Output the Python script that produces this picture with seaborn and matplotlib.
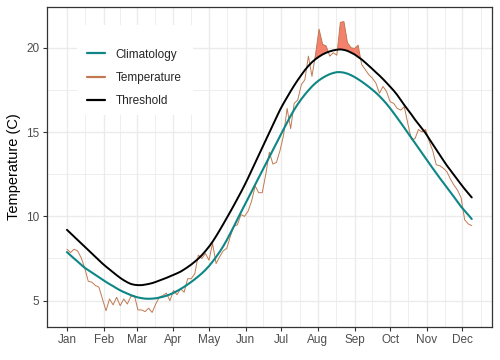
import numpy as np
import pandas as pd
import matplotlib
matplotlib.use("Agg")
import matplotlib.pyplot as plt
import matplotlib.dates as mdates
from matplotlib.lines import Line2D
from matplotlib.patches import Rectangle
import seaborn as sns

# ---------------- data (one value every 3 days) -------------
start_date = "2019-01-01"
step_days = 3

temperature = [
    8.05, 7.85, 8.05, 7.95, 7.55, 6.95, 6.15, 6.10, 5.90, 5.80,
    5.10, 4.40, 5.10, 4.75, 5.20, 4.70, 5.10, 4.80, 5.25, 5.30,
    4.45, 4.45, 4.35, 4.55, 4.30, 4.80, 5.20, 5.30, 5.45, 5.00,
    5.60, 5.35, 5.70, 5.50, 6.30, 6.30, 6.60, 7.70, 7.50, 7.80,
    7.40, 8.40, 7.20, 7.60, 7.95, 8.10, 8.80, 9.40, 9.50, 10.10,
    10.00, 10.30, 10.90, 11.80, 11.40, 11.40, 12.50, 13.80, 13.10, 13.20,
    13.90, 14.80, 16.40, 15.20, 16.70, 16.90, 17.80, 18.10, 19.50, 18.30,
    19.60, 21.10, 20.20, 20.10, 19.50, 19.70, 19.55, 21.50, 21.55, 20.30,
    20.00, 19.95, 20.15, 19.00, 18.70, 18.40, 18.20, 17.90, 17.30, 17.70,
    17.40, 16.80, 16.70, 16.40, 16.30, 16.50, 15.50, 14.55, 14.60, 15.15,
    15.00, 15.15, 14.45, 13.90, 13.05, 13.00, 12.85, 12.65, 12.20, 11.85,
    11.55, 11.10, 9.80, 9.55, 9.45,
]

climatology = [
    7.88, 7.69, 7.50, 7.32, 7.13, 6.95, 6.81, 6.67, 6.53, 6.39,
    6.25, 6.11, 5.98, 5.86, 5.73, 5.61, 5.51, 5.42, 5.33, 5.25,
    5.19, 5.15, 5.12, 5.11, 5.12, 5.14, 5.18, 5.23, 5.29, 5.37,
    5.46, 5.57, 5.69, 5.82, 5.96, 6.11, 6.27, 6.44, 6.62, 6.82,
    7.05, 7.31, 7.59, 7.89, 8.22, 8.59, 8.99, 9.40, 9.82, 10.24,
    10.65, 11.06, 11.47, 11.88, 12.29, 12.70, 13.11, 13.52, 13.93, 14.34,
    14.75, 15.16, 15.56, 15.96, 16.32, 16.65, 16.95, 17.22, 17.47, 17.70,
    17.90, 18.07, 18.21, 18.33, 18.43, 18.50, 18.55, 18.55, 18.52, 18.46,
    18.37, 18.26, 18.13, 17.99, 17.84, 17.68, 17.51, 17.33, 17.13, 16.91,
    16.67, 16.41, 16.13, 15.84, 15.55, 15.25, 14.95, 14.65, 14.35, 14.05,
    13.75, 13.45, 13.15, 12.85, 12.56, 12.27, 11.99, 11.71, 11.43, 11.15,
    10.86, 10.57, 10.33, 10.09, 9.84,
]

threshold = [
    9.20, 9.00, 8.80, 8.60, 8.40, 8.20, 8.00, 7.80, 7.60, 7.40,
    7.20, 7.02, 6.85, 6.68, 6.51, 6.35, 6.21, 6.09, 5.99, 5.94,
    5.92, 5.92, 5.95, 5.99, 6.04, 6.11, 6.19, 6.27, 6.35, 6.44,
    6.53, 6.62, 6.72, 6.85, 6.99, 7.14, 7.31, 7.49, 7.70, 7.94,
    8.20, 8.49, 8.82, 9.17, 9.53, 9.90, 10.27, 10.65, 11.04, 11.43,
    11.84, 12.27, 12.72, 13.17, 13.62, 14.07, 14.52, 14.97, 15.42, 15.87,
    16.31, 16.70, 17.06, 17.42, 17.76, 18.08, 18.38, 18.67, 18.92, 19.14,
    19.32, 19.47, 19.60, 19.70, 19.78, 19.84, 19.88, 19.90, 19.87, 19.81,
    19.71, 19.60, 19.45, 19.30, 19.12, 18.93, 18.74, 18.54, 18.35, 18.14,
    17.92, 17.69, 17.46, 17.20, 16.90, 16.60, 16.32, 16.04, 15.74, 15.47,
    15.20, 14.93, 14.60, 14.28, 13.96, 13.64, 13.32, 13.01, 12.73, 12.45,
    12.17, 11.89, 11.62, 11.37, 11.12,
]

# detected events (temperature above threshold is shaded only inside these)
event_starts = ["2019-07-27", "2019-10-28"]
event_ends = ["2019-09-07", "2019-11-03"]

series_labels = ["Climatology", "Temperature", "Threshold"]
series_colors = ["#0E8686", "#C07A52", "#000000"]
flame_color = "#F4806E"

# ---------------- frame ----------------
dates = pd.date_range(start_date, periods=len(temperature), freq=f"{step_days}D")
df = pd.DataFrame({"date": dates, "Temperature": temperature,
                   "Climatology": climatology, "Threshold": threshold})

sns.set_theme(style="white")
plt.rcParams["font.family"] = ["Liberation Sans", "DejaVu Sans"]

fig = plt.figure(figsize=(5, 3.6), dpi=100)
L, R, T, B = 46.7, 492.0, 7.0, 327.0
ax = fig.add_axes([L / 500, 1 - B / 360, (R - L) / 500, (B - T) / 360])
ax.set_facecolor("white")

# flame (heatwave shading)
xnum = mdates.date2num(df["date"])
in_event = np.zeros(len(df), dtype=bool)
for s, e in zip(event_starts, event_ends):
    in_event |= (df["date"] >= pd.Timestamp(s)).values & (df["date"] <= pd.Timestamp(e)).values
temp_arr = df["Temperature"].to_numpy()
thr_arr = df["Threshold"].to_numpy()
ax.fill_between(xnum, thr_arr, temp_arr, where=in_event & (temp_arr > thr_arr),
                interpolate=True, color=flame_color, lw=0, zorder=2)

sns.lineplot(data=df, x="date", y="Temperature", color=series_colors[1],
             lw=0.7, ax=ax, zorder=3)
sns.lineplot(data=df, x="date", y="Climatology", color=series_colors[0],
             lw=1.5, ax=ax, zorder=4)
sns.lineplot(data=df, x="date", y="Threshold", color=series_colors[2],
             lw=1.4, ax=ax, zorder=5)

# scales with 5% expansion like ggplot
x0, x1 = xnum[0], xnum[-1]
ax.set_xlim(x0 - 0.05 * (x1 - x0), x1 + 0.05 * (x1 - x0))
allv = np.concatenate([temp_arr, thr_arr, df["Climatology"].to_numpy()])
ymin, ymax = allv.min(), allv.max()
ax.set_ylim(ymin - 0.05 * (ymax - ymin), ymax + 0.05 * (ymax - ymin))

month_starts = pd.date_range("2019-01-01", "2020-01-01", freq="MS")
ms = mdates.date2num(month_starts)
ax.set_xticks(ms[:-1])
ax.set_xticklabels([d.strftime("%b") for d in month_starts[:-1]])
mids = (ms[:-1] + ms[1:]) / 2
lo, hi = ax.get_xlim()
ax.set_xticks([m for m in mids if lo < m < hi], minor=True)
ax.set_yticks([5, 10, 15, 20])
ax.set_yticklabels(["5", "10", "15", "20"])
ax.set_yticks([7.5, 12.5, 17.5], minor=True)

ax.set_axisbelow(True)
ax.grid(which="major", color="#EBEBEB", lw=1.0, zorder=0)
ax.grid(which="minor", color="#EBEBEB", lw=0.6, zorder=0)
for sp in ax.spines.values():
    sp.set_color("#333333")
    sp.set_linewidth(0.9)
ax.tick_params(which="major", length=2.7, width=0.8, color="#333333",
               labelsize=8.5, labelcolor="#4D4D4D", pad=2.5,
               bottom=True, left=True)
ax.tick_params(which="minor", length=0, bottom=False, left=False)
ax.set_xlabel("")
ax.set_ylabel("Temperature (C)", fontsize=10.5, color="black", labelpad=4)

# legend with a white background box inside the panel
ax.add_patch(Rectangle((0.068, 0.6625), 0.2605, 0.281, transform=ax.transAxes,
                       facecolor="white", edgecolor="none", zorder=1))
handles = [Line2D([0], [0], color=c, lw=1.6) for c in series_colors]
ax.legend(handles, series_labels, loc="upper left", bbox_to_anchor=(0.0906, 0.87),
          frameon=False, fontsize=8.5, handlelength=1.55, handletextpad=0.85,
          labelspacing=0.95, borderpad=0, borderaxespad=0)

fig.savefig("out.png", dpi=100)
